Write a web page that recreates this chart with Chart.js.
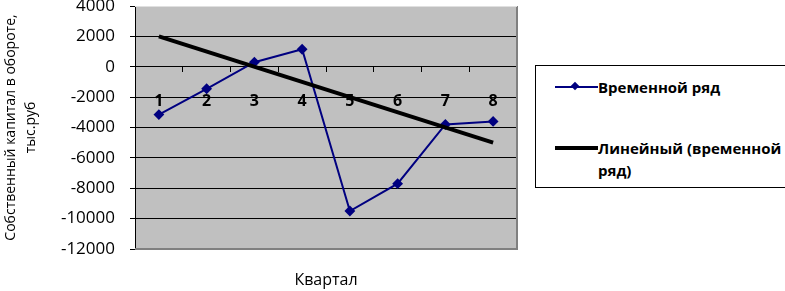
<!DOCTYPE html>
<html>
<head>
<meta charset="utf-8">
<script src="https://cdn.jsdelivr.net/npm/chart.js@4/dist/chart.umd.min.js"></script>
<style>
  body { margin: 0; background: #fff; }
  #wrap { position: relative; width: 785px; height: 291px; overflow: hidden; }
  #legend {
    position: absolute; left: 535px; top: 65px; width: 270px; height: 121px;
    border: 1px solid #000; background: #fff;
    font-family: "Open Sans", sans-serif; font-weight: bold; font-size: 15px; color: #000;
  }
  .item { position: absolute; left: 19px; }
  .sample { position: absolute; left: 0; width: 43px; }
  .txt { position: absolute; left: 43px; white-space: nowrap; line-height: 22px; }
</style>
</head>
<body>
<div id="wrap">
  <canvas id="chart" width="785" height="291"></canvas>
  <div id="legend">
    <div class="item" style="top:10px">
      <div class="sample" style="top:10px;height:2px;background:#000080"></div>
      <div class="sample" style="top:7px;left:17px;width:6px;height:6px;background:#000080;transform:rotate(45deg)"></div>
      <div class="txt" style="top:0">Временной ряд</div>
    </div>
    <div class="item" style="top:71px">
      <div class="sample" style="top:9px;height:4px;background:#000"></div>
      <div class="txt" style="top:0">Линейный (временной<br>ряд)</div>
    </div>
  </div>
</div>
<script>
// данные
const kvartaly = ['1', '2', '3', '4', '5', '6', '7', '8'];
const vremennoyRyad = [-3150, -1450, 300, 1150, -9500, -7700, -3800, -3600];
const trend = [2000, null, null, null, null, null, null, -5000];
const yTicks = { min: -12000, max: 4000, step: 2000 };

// серый фон области построения
const plotBg = {
    id: 'plotBg',
    beforeDraw(chart) {
        const { ctx, chartArea: a } = chart;
        ctx.save();
        ctx.fillStyle = '#C0C0C0';
        ctx.fillRect(a.left, a.top, a.right - a.left, a.bottom - a.top);
        ctx.restore();
    },
    beforeDatasetsDraw(chart) {
        const { ctx, chartArea: a } = chart;
        ctx.save();
        ctx.strokeStyle = '#808080';
        ctx.lineWidth = 2;
        ctx.beginPath();
        ctx.moveTo(a.left, a.bottom);
        ctx.lineTo(a.right, a.bottom);
        ctx.lineTo(a.right, a.top);
        ctx.stroke();
        ctx.strokeStyle = '#E0E0E0';
        ctx.lineWidth = 1;
        ctx.beginPath();
        ctx.moveTo(a.left, a.top + 0.5);
        ctx.lineTo(a.right, a.top + 0.5);
        ctx.stroke();
        ctx.restore();
    }
};

const font = 'Open Sans';

new Chart(document.getElementById('chart'), {
    type: 'line',
    data: {
        labels: kvartaly,
        datasets: [{
            label: 'Временной ряд',
            data: vremennoyRyad,
            borderColor: '#000080',
            backgroundColor: '#000080',
            borderWidth: 2,
            pointStyle: 'rectRot',
            pointRadius: 4,
            tension: 0,
            order: 2
        }, {
            label: 'Линейный (временной ряд)',
            data: trend,
            borderColor: '#000',
            borderWidth: 4,
            pointRadius: 0,
            spanGaps: true,
            order: 1
        }]
    },
    options: {
        responsive: false,
        animation: false,
        layout: { padding: { top: 6, right: 268, left: 0, bottom: 0 } },
        plugins: {
            legend: { display: false },
            tooltip: { enabled: false }
        },
        scales: {
            x: {
                type: 'category',
                position: { y: 0 },
                offset: true,
                grid: { display: true, drawOnChartArea: false, drawTicks: true, tickLength: 5, color: '#000', offset: true },
                border: { display: true, color: '#000', width: 1 },
                ticks: { color: '#000', padding: 20, maxRotation: 0, font: { family: font, size: 16, weight: 'bold' } }
            },
            x2: {
                type: 'category',
                position: 'bottom',
                offset: true,
                grid: { display: false },
                border: { display: false },
                ticks: { display: false },
                title: { display: true, text: 'Квартал', color: '#000', padding: { top: 0, bottom: 1 }, font: { family: font, size: 16 } },
                afterFit(scale) { scale.height = 42; }
            },
            y: {
                min: yTicks.min,
                max: yTicks.max,
                ticks: {
                    stepSize: yTicks.step,
                    color: '#000',
                    padding: 15,
                    font: { family: font, size: 17 },
                    callback: (v) => String(v)
                },
                grid: {
                    color: (c) => (c.tick && (c.tick.value === yTicks.min || c.tick.value === yTicks.max)) ? 'rgba(0,0,0,0)' : '#000',
                    tickColor: '#000',
                    tickLength: 5
                },
                border: { display: true, color: '#000', width: 1 },
                title: {
                    display: true,
                    text: ['Собственный капитал в обороте,', 'тыс.руб'],
                    color: '#000',
                    padding: { top: 1, bottom: 0 },
                    font: { family: font, size: 14, lineHeight: 1.45 }
                },
                afterFit(scale) {
                    scale.width = 135;
                    scale.paddingTop = 0;
                    scale.paddingBottom = 0;
                }
            }
        }
    },
    plugins: [plotBg]
});
</script>
</body>
</html>
